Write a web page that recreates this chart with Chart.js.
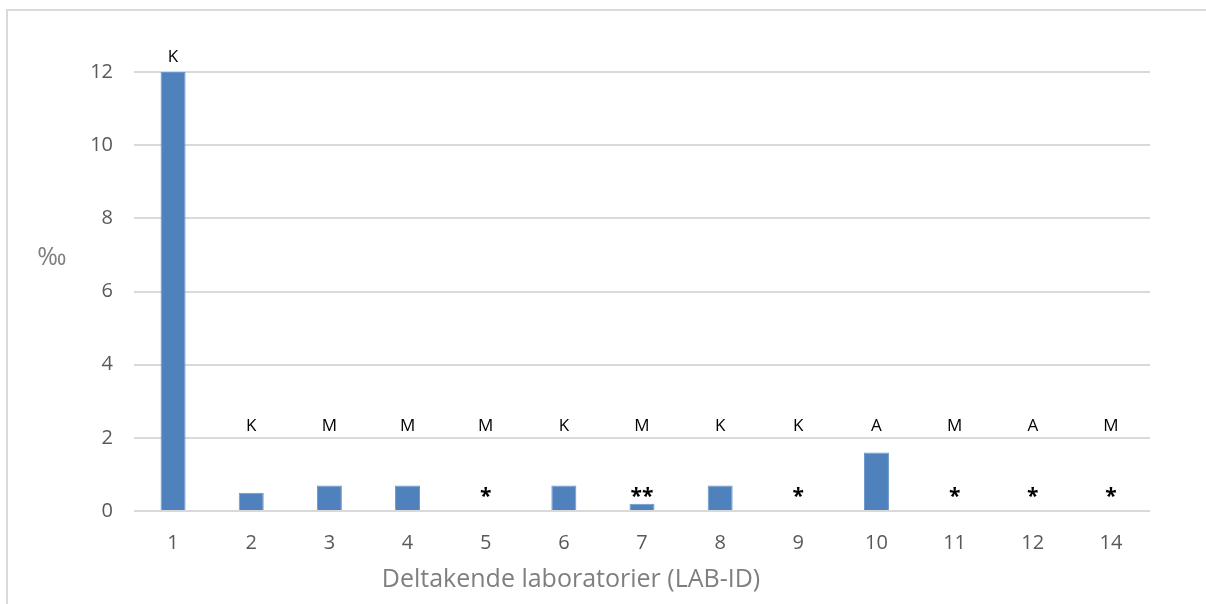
<!DOCTYPE html>
<html>
<head>
<meta charset="utf-8">
<script src="https://cdn.jsdelivr.net/npm/chart.js@4.4.1/dist/chart.umd.min.js"></script>
<style>
  html, body { margin: 0; padding: 0; background: #ffffff; }
  #wrap { position: relative; width: 1206px; height: 604px; }
  canvas { display: block; }
</style>
</head>
<body>
<div id="wrap"><canvas id="c" width="1206" height="604"></canvas></div>
<script>
// Laboratory IDs along the x axis
const labIds = ['1', '2', '3', '4', '5', '6', '7', '8', '9', '10', '11', '12', '14'];
// Measured values (‰)
const values = [12, 0.5, 0.7, 0.7, 0, 0.7, 0.2, 0.7, 0, 1.6, 0, 0, 0];
// Method code printed above each laboratory
const methodCodes = ['K', 'K', 'M', 'M', 'M', 'K', 'M', 'K', 'K', 'A', 'M', 'A', 'M'];
// Footnote markers printed near the baseline
const footnoteMarks = ['', '', '', '', '*', '', '**', '', '*', '', '*', '*', '*'];
// Y axis ticks
const yTicks = [0, 2, 4, 6, 8, 10, 12];

const FONT = "'Open Sans', 'Noto Sans', sans-serif";

const annotations = {
  id: 'annotations',
  afterDatasetsDraw(chart) {
    const { ctx, scales: { x, y } } = chart;
    ctx.save();
    ctx.textAlign = 'center';
    ctx.textBaseline = 'middle';
    labIds.forEach((id, i) => {
      const px = x.getPixelForValue(i);
      const v = values[i];
      // method letters sit on a common level, or just above a tall bar
      const codeY = v > 2.35 ? y.getPixelForValue(v) - 15 : y.getPixelForValue(2.33);
      ctx.fillStyle = '#000000';
      ctx.font = "17px " + FONT;
      ctx.fillText(methodCodes[i], px, codeY);
      if (footnoteMarks[i]) {
        ctx.font = "bold 21px " + FONT;
        ctx.fillText(footnoteMarks[i], px, y.getPixelForValue(0.38));
      }
    });
    ctx.restore();
  }
};

const frameAndTitles = {
  id: 'frameAndTitles',
  beforeDraw(chart) {
    const { ctx } = chart;
    ctx.save();
    ctx.fillStyle = '#ffffff';
    ctx.fillRect(0, 0, chart.width, chart.height);
    ctx.strokeStyle = '#d9d9d9';
    ctx.lineWidth = 2;
    ctx.beginPath();
    ctx.moveTo(7, 604);
    ctx.lineTo(7, 10);
    ctx.lineTo(1206, 10);
    ctx.stroke();
    ctx.restore();
  },
  afterDraw(chart) {
    const { ctx } = chart;
    ctx.save();
    ctx.fillStyle = '#7f7f7f';
    ctx.textAlign = 'center';
    ctx.textBaseline = 'middle';
    ctx.font = "25px " + FONT;
    ctx.fillText('‰', 52, 258);
    ctx.font = "25px " + FONT;
    ctx.fillText('Deltakende laboratorier (LAB-ID)', 571, 580);
    ctx.restore();
  }
};

new Chart(document.getElementById('c'), {
  type: 'bar',
  data: {
    labels: labIds,
    datasets: [{
      data: values,
      backgroundColor: '#4f81bd',
      borderColor: '#6a96cc',
      borderWidth: 1,
      barPercentage: 0.32,
      categoryPercentage: 1.0
    }]
  },
  options: {
    responsive: false,
    animation: false,
    events: [],
    layout: { padding: { left: 0, top: 72, right: 56, bottom: 0 } },
    plugins: { legend: { display: false }, tooltip: { enabled: false } },
    scales: {
      x: {
        grid: { display: false, drawTicks: false },
        border: { display: false },
        ticks: { color: '#595959', font: { family: FONT, size: 20 }, padding: 20, maxRotation: 0 },
        afterFit(s) { s.height = 93; }
      },
      y: {
        min: 0, max: 12,
        afterBuildTicks(s) { s.ticks = yTicks.map(v => ({ value: v })); },
        grid: { color: '#d9d9d9', lineWidth: 2, drawTicks: false },
        border: { display: false },
        ticks: { color: '#595959', font: { family: FONT, size: 20 }, padding: 21 },
        afterFit(s) { s.width = 134; }
      }
    }
  },
  plugins: [frameAndTitles, annotations]
});
</script>
</body>
</html>
